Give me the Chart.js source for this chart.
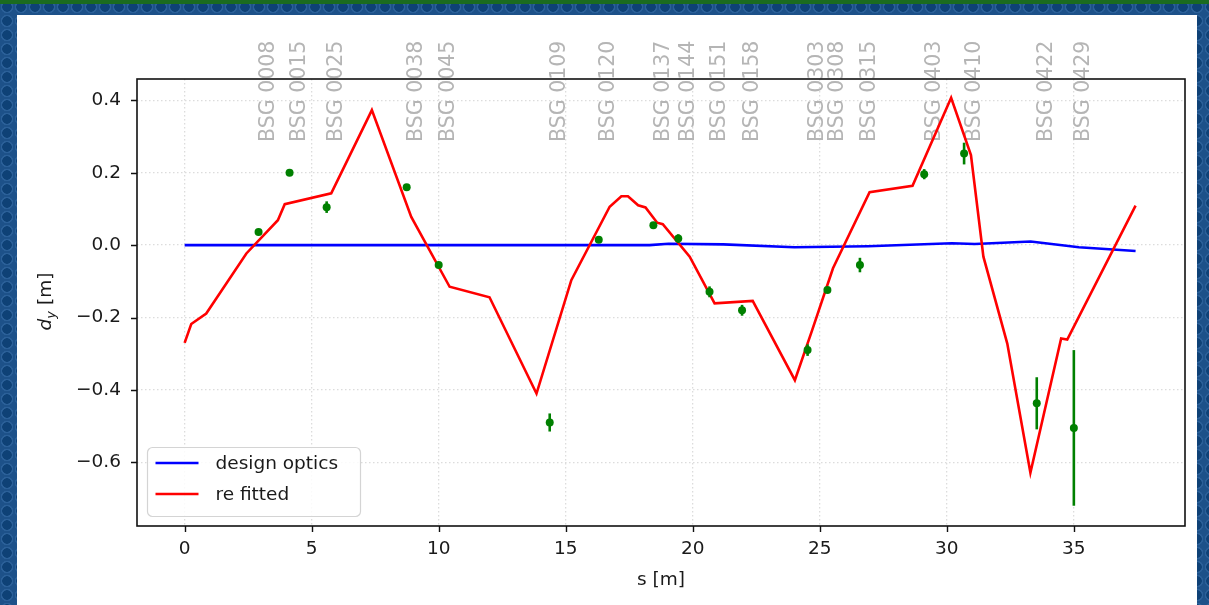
<!DOCTYPE html>
<html>
<head>
<meta charset="utf-8">
<script src="https://cdn.jsdelivr.net/npm/chart.js@4.4.1/dist/chart.umd.min.js"></script>
<style>
  html, body { margin: 0; padding: 0; }
  body {
    width: 1209px; height: 605px; overflow: hidden; position: relative;
    background-color: #1d5189;
    background-image: radial-gradient(circle, #0e4176 0 4.5px, #2b6099 5px 6px, transparent 6.5px);
    background-size: 14px 14px;
  }
  #topbar { position: absolute; left: 0; top: 0; width: 1209px; height: 4px; background: #1b6b20; }
  #panel { position: absolute; left: 17px; top: 15px; width: 1180px; height: 590px; background: #fff; }
  #chart { position: absolute; left: 0; top: 0; }
</style>
</head>
<body>
<div id="topbar"></div>
<div id="panel"></div>
<canvas id="chart" width="1209" height="605"></canvas>
<script>
// design optics (blue)
const sDesign  = [0, 10, 18.3, 19.05, 21.2, 24, 26.9, 30.2, 31.1, 33.3, 35.2, 37.43];
const dyDesign = [0, 0, 0, 0.004, 0.002, -0.006, -0.003, 0.005, 0.003, 0.010, -0.006, -0.016];

// re fitted orbit (red)
const sFit  = [0, 0.26, 0.85, 2.43, 3.67, 3.94, 5.77, 7.37, 8.92, 10.43, 12.0, 13.85, 15.22, 16.73, 17.19, 17.45,
               17.85, 18.14, 18.6, 18.82, 19.88, 20.86, 22.36, 24.02, 24.7, 25.52, 26.96, 28.65, 30.17, 30.95,
               31.44, 32.38, 33.29, 34.5, 34.74, 37.43];
const dyFit = [-0.27, -0.218, -0.189, -0.023, 0.069, 0.113, 0.143, 0.373, 0.078, -0.115, -0.144, -0.41, -0.097, 0.106, 0.135, 0.135,
               0.11, 0.104, 0.062, 0.058, -0.032, -0.161, -0.154, -0.373, -0.235, -0.064, 0.146, 0.164, 0.407, 0.249,
               -0.032, -0.272, -0.629, -0.258, -0.261, 0.109];

// measured BSG readings with errors (green)
const bpmNames = ['BSG 0008', 'BSG 0015', 'BSG 0025', 'BSG 0038', 'BSG 0045', 'BSG 0109', 'BSG 0120', 'BSG 0137', 'BSG 0144',
                  'BSG 0151', 'BSG 0158', 'BSG 0303', 'BSG 0308', 'BSG 0315', 'BSG 0403', 'BSG 0410', 'BSG 0422', 'BSG 0429'];
const sBpm   = [2.91, 4.13, 5.59, 8.74, 10.0, 14.37, 16.3, 18.45, 19.43, 20.66, 21.94, 24.52, 25.3, 26.58, 29.11, 30.68, 33.54, 35.0];
const dyBpm  = [0.036, 0.2, 0.105, 0.16, -0.055, -0.49, 0.015, 0.055, 0.018, -0.129, -0.18, -0.29, -0.124, -0.055, 0.196, 0.253, -0.437, -0.505];
const errBpm = [0.006, 0.006, 0.016, 0.006, 0.008, 0.025, 0.008, 0.008, 0.012, 0.015, 0.015, 0.016, 0.008, 0.02, 0.014, 0.03, 0.072, 0.215];

const xTicks = [0, 5, 10, 15, 20, 25, 30, 35];
const yTicks = [-0.6, -0.4, -0.2, 0.0, 0.2, 0.4];
const nameLevel = 0.285;   // dy where the rotated BSG names start

const FONT = 'DejaVu Sans';
const toPoints = (xs, ys) => xs.map((x, i) => ({ x: x, y: ys[i] }));

const mplDecor = {
  id: 'mplDecor',
  beforeDatasetsDraw(chart) {
    const { ctx, scales: { x, y } } = chart;
    ctx.save();
    ctx.font = '20.5px "' + FONT + '"';
    ctx.fillStyle = '#b5b5b5';
    ctx.textAlign = 'left';
    ctx.textBaseline = 'alphabetic';
    const y0 = y.getPixelForValue(nameLevel);
    bpmNames.forEach((name, i) => {
      ctx.save();
      ctx.translate(x.getPixelForValue(sBpm[i]) + 15.5, y0);
      ctx.rotate(-Math.PI / 2);
      ctx.fillText(name, 0, 0);
      ctx.restore();
    });
    ctx.restore();
  },
  beforeDatasetDraw(chart, args) {
    if (args.index !== 2) return;
    const { ctx, scales: { x, y } } = chart;
    ctx.save();
    ctx.strokeStyle = '#008000';
    ctx.lineWidth = 2.6;
    sBpm.forEach((s, i) => {
      const px = x.getPixelForValue(s);
      ctx.beginPath();
      ctx.moveTo(px, y.getPixelForValue(dyBpm[i] + errBpm[i]));
      ctx.lineTo(px, y.getPixelForValue(dyBpm[i] - errBpm[i]));
      ctx.stroke();
    });
    ctx.restore();
  },
  afterDraw(chart) {
    const { ctx, chartArea: a, scales: { x, y } } = chart;
    ctx.save();
    // spines
    ctx.strokeStyle = '#111';
    ctx.lineWidth = 1.6;
    ctx.strokeRect(a.left, a.top, a.right - a.left, a.bottom - a.top);
    // tick marks
    ctx.lineWidth = 1.4;
    ctx.beginPath();
    xTicks.forEach(v => {
      const px = Math.round(x.getPixelForValue(v)) + 0.5;
      ctx.moveTo(px, a.bottom); ctx.lineTo(px, a.bottom + 6);
    });
    yTicks.forEach(v => {
      const py = Math.round(y.getPixelForValue(v)) + 0.5;
      ctx.moveTo(a.left, py); ctx.lineTo(a.left - 6, py);
    });
    ctx.stroke();

    // legend, lower left
    const lx = a.left + 10.5, lw = 213, lh = 69, ly = a.bottom - 9.5 - lh;
    ctx.beginPath();
    ctx.roundRect(lx, ly, lw, lh, 5);
    ctx.fillStyle = 'rgba(255,255,255,0.85)';
    ctx.fill();
    ctx.strokeStyle = '#d4d4d4';
    ctx.lineWidth = 1.2;
    ctx.stroke();
    ctx.font = '18.5px "' + FONT + '"';
    ctx.textBaseline = 'middle';
    ctx.textAlign = 'left';
    [0, 1].forEach((di, k) => {
      const ds = chart.data.datasets[di];
      const ry = ly + 15.5 + k * 31;
      ctx.strokeStyle = ds.borderColor;
      ctx.lineWidth = 2.6;
      ctx.beginPath();
      ctx.moveTo(lx + 8, ry); ctx.lineTo(lx + 51, ry);
      ctx.stroke();
      ctx.fillStyle = '#1a1a1a';
      ctx.fillText(ds.label, lx + 68, ry + 1);
    });

    // y axis title: d_y [m]
    const big = '18.5px "' + FONT + '"';
    const ital = 'italic 18.5px "' + FONT + '"';
    const sub = 'italic 13px "' + FONT + '"';
    ctx.font = ital; const wd = ctx.measureText('d').width;
    ctx.font = sub; const wy = ctx.measureText('y').width;
    ctx.font = big; const wm = ctx.measureText(' [m]').width;
    const total = wd + wy + wm;
    ctx.translate(51, (a.top + a.bottom) / 2 - 1);
    ctx.rotate(-Math.PI / 2);
    ctx.fillStyle = '#1a1a1a';
    ctx.textBaseline = 'alphabetic';
    let cx = -total / 2;
    ctx.font = ital; ctx.fillText('d', cx, 0); cx += wd;
    ctx.font = sub; ctx.fillText('y', cx, 4); cx += wy;
    ctx.font = big; ctx.fillText(' [m]', cx, 0);
    ctx.restore();
  }
};

const fmtY = v => (v < 0 ? '\u2212' : '') + Math.abs(v).toFixed(1);

new Chart(document.getElementById('chart'), {
  type: 'line',
  data: {
    datasets: [
      {
        label: 'design optics',
        data: toPoints(sDesign, dyDesign),
        borderColor: '#0000ff',
        borderWidth: 2.6,
        pointRadius: 0,
        tension: 0,
        order: 2
      },
      {
        label: 're fitted',
        data: toPoints(sFit, dyFit),
        borderColor: '#ff0000',
        borderWidth: 2.6,
        pointRadius: 0,
        tension: 0,
        order: 1
      },
      {
        label: 'BSG',
        data: toPoints(sBpm, dyBpm),
        showLine: false,
        pointRadius: 4,
        pointBackgroundColor: '#008000',
        pointBorderWidth: 0,
        borderColor: '#008000',
        order: 0
      }
    ]
  },
  options: {
    responsive: false,
    animation: false,
    devicePixelRatio: 1,
    layout: { padding: { left: 0, top: 79, right: 24, bottom: 0 } },
    plugins: { legend: { display: false }, tooltip: { enabled: false } },
    scales: {
      x: {
        type: 'linear',
        min: -1.875,
        max: 39.375,
        afterBuildTicks: s => { s.ticks = xTicks.map(v => ({ value: v })); },
        afterFit: s => { s.height = 79; },
        grid: { color: '#dcdcdc', lineWidth: 1.3, drawTicks: false },
        border: { display: false, dash: [1.5, 2.5] },
        ticks: {
          padding: 12,
          color: '#1a1a1a',
          font: { family: FONT, size: 18.5 },
          maxRotation: 0,
          callback: v => String(v)
        },
        title: {
          display: true,
          text: 's [m]',
          color: '#1a1a1a',
          font: { family: FONT, size: 18.5 },
          padding: { top: 0, bottom: 14 }
        }
      },
      y: {
        type: 'linear',
        min: -0.776,
        max: 0.459,
        afterBuildTicks: s => { s.ticks = yTicks.map(v => ({ value: v })); },
        afterFit: s => { s.width = 137; },
        grid: { color: '#dcdcdc', lineWidth: 1.3, drawTicks: false },
        border: { display: false, dash: [1.5, 2.5] },
        ticks: {
          padding: 16,
          color: '#1a1a1a',
          font: { family: FONT, size: 18.5 },
          callback: v => fmtY(v)
        }
      }
    }
  },
  plugins: [mplDecor]
});
</script>
</body>
</html>
